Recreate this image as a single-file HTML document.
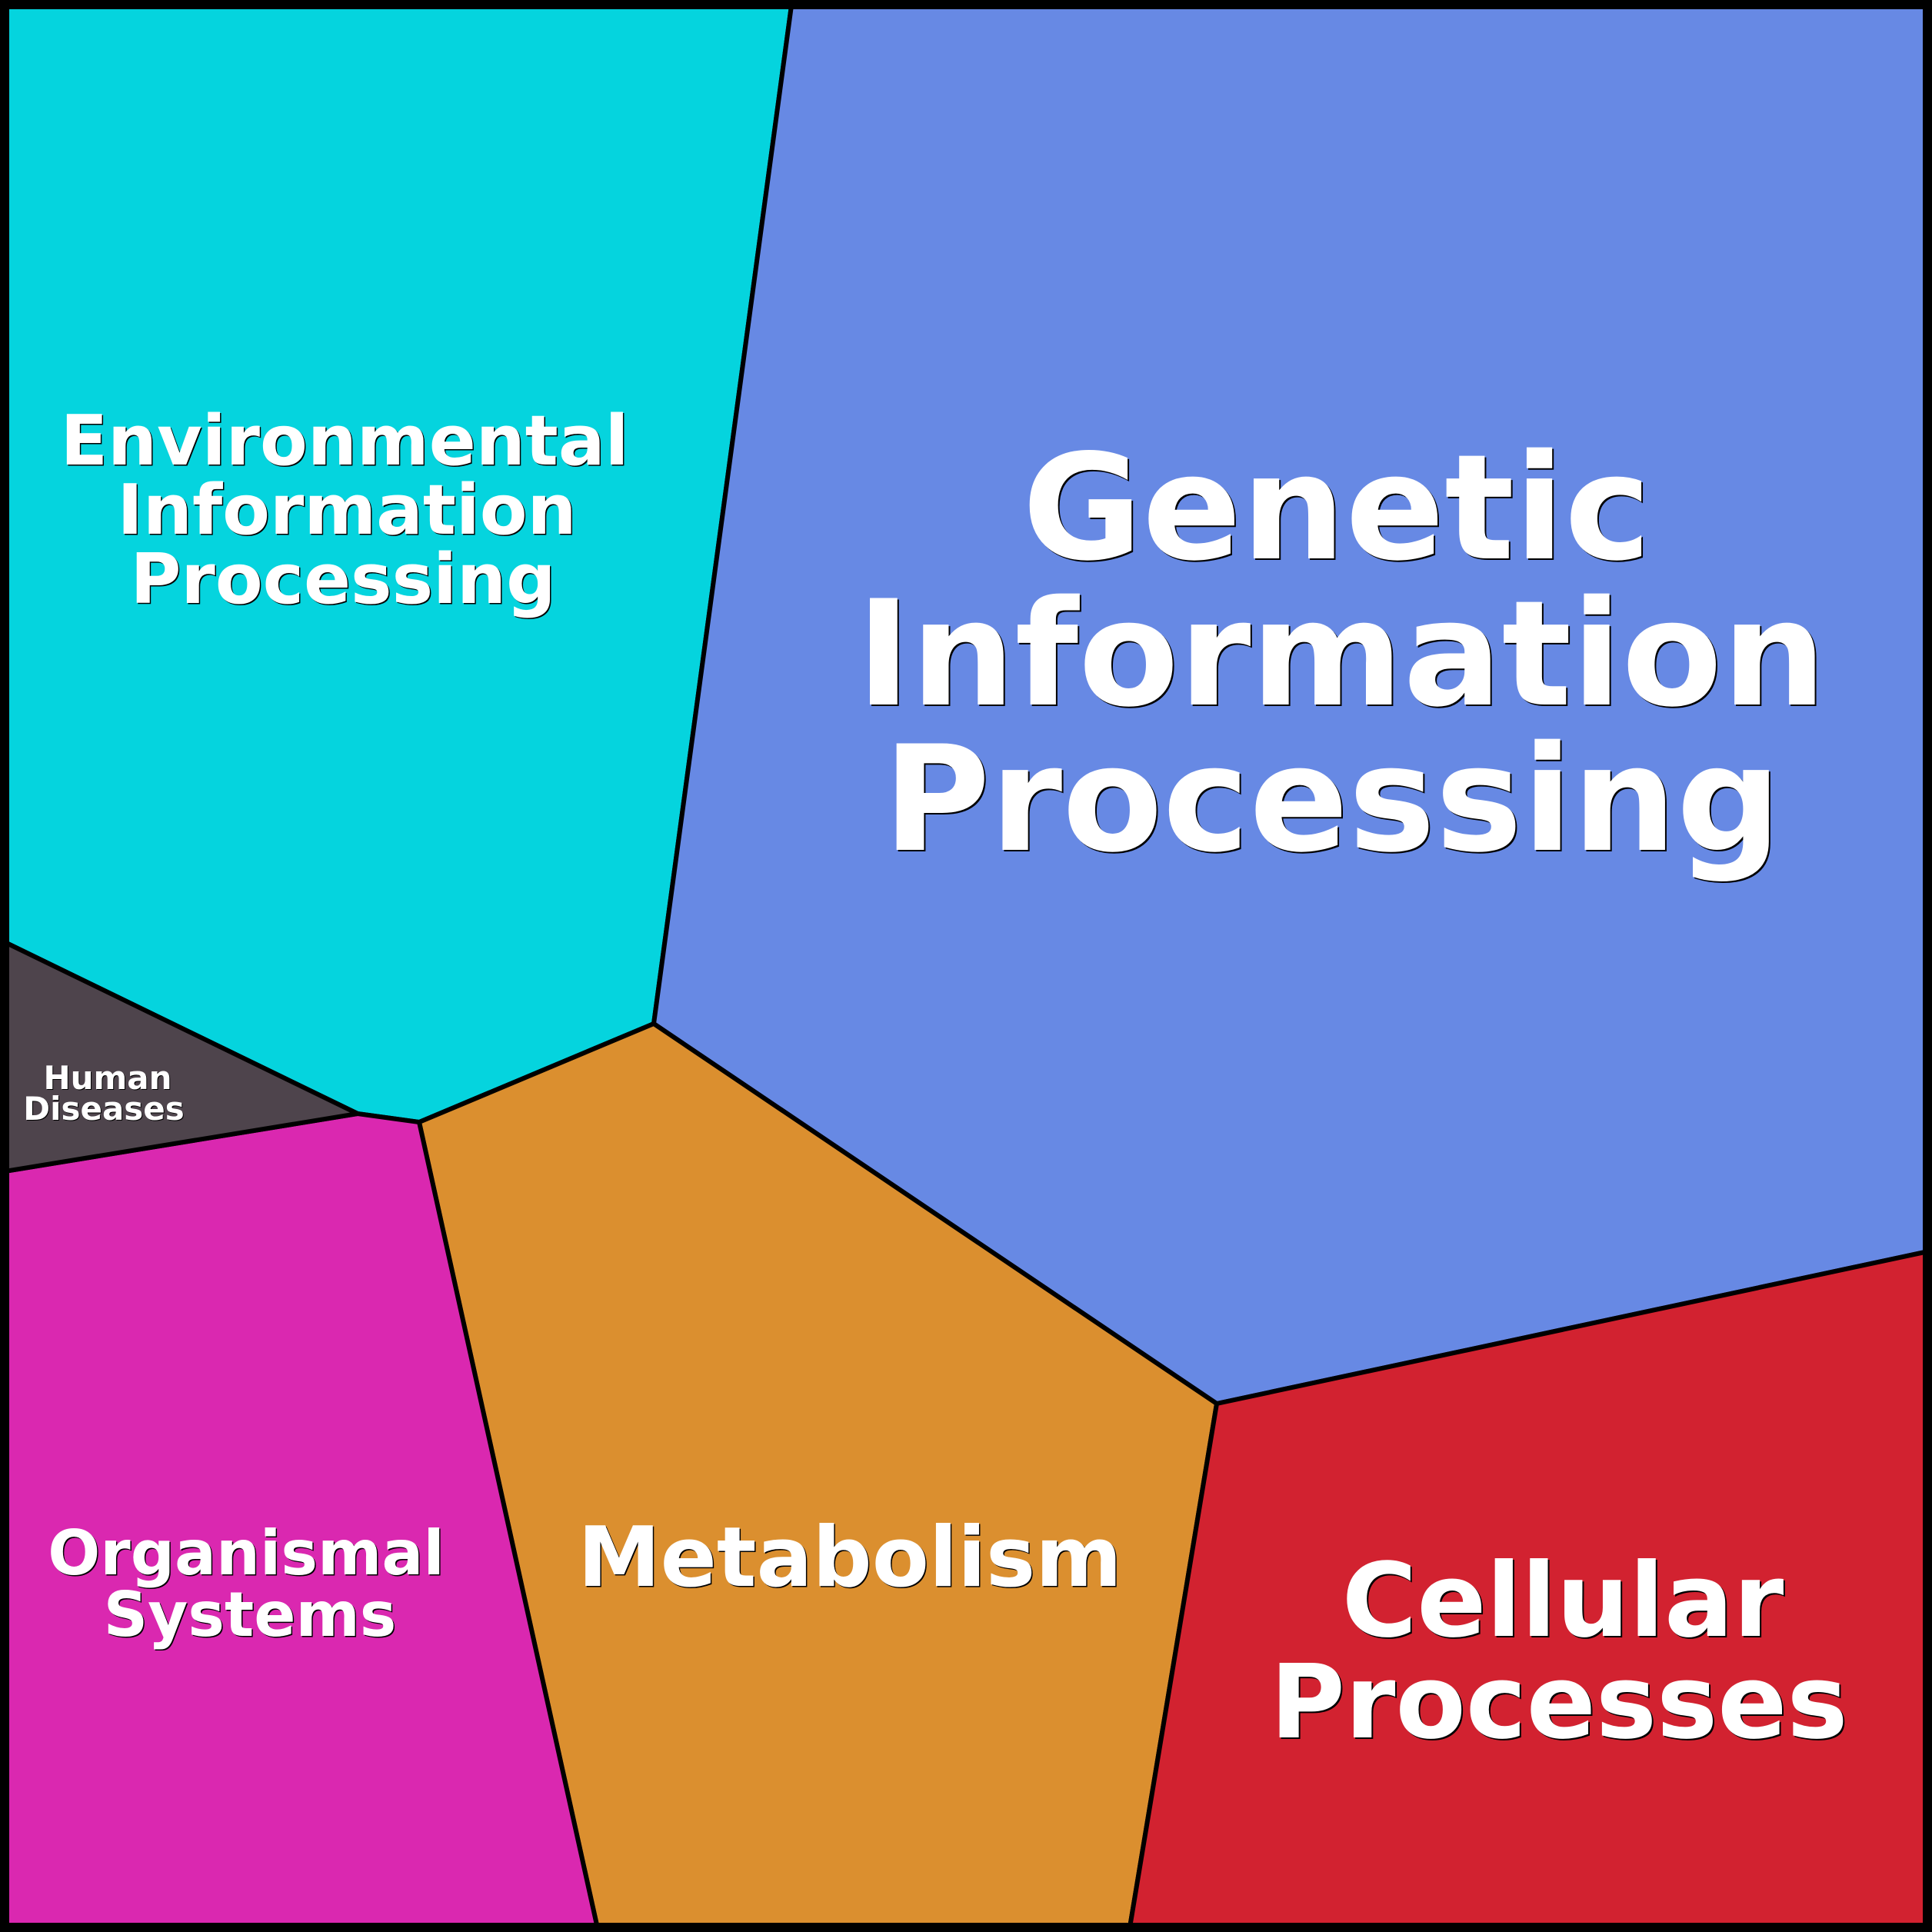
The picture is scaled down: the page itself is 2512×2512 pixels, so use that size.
<!DOCTYPE html>
<html>
<head>
<meta charset="utf-8">
<style>
  html, body { margin: 0; padding: 0; background: #000; }
  svg { display: block; }
  text { font-family: "DejaVu Sans", "Liberation Sans", sans-serif; font-weight: bold; text-anchor: middle; }
</style>
</head>
<body>
<svg width="2512" height="2512" viewBox="0 0 2512 2512" xmlns="http://www.w3.org/2000/svg">
  <rect x="0" y="0" width="2512" height="2512" fill="#000"/>
  <g stroke="#000" stroke-width="6" stroke-linejoin="miter">
    <!-- Environmental -->
    <polygon fill="#05D4DE" points="0,0 1030,0 850,1331 545,1459 465,1448 0,1222"/>
    <!-- Genetic -->
    <polygon fill="#6789E4" points="1030,0 2512,0 2512,1626 1582,1825 850,1331"/>
    <!-- Metabolism -->
    <polygon fill="#DB8F2F" points="850,1331 1582,1825 1468,2512 778,2512 545,1459"/>
    <!-- Cellular -->
    <polygon fill="#D22230" points="1582,1825 2512,1626 2512,2512 1468,2512"/>
    <!-- Organismal -->
    <polygon fill="#DA28B0" points="0,1524 465,1448 545,1459 778,2512 0,2512"/>
    <!-- Human Diseases -->
    <polygon fill="#4E444C" points="0,1222 465,1448 0,1524"/>
  </g>
  <rect x="0" y="0" width="2512" height="2512" fill="none" stroke="#000" stroke-width="24"/>

  <!-- Genetic Information Processing -->
  <g font-size="190">
    <g fill="#000" transform="translate(2,2)">
      <text x="1738" y="726">Genetic</text>
      <text x="1744" y="916">Information</text>
      <text x="1732" y="1105">Processing</text>
    </g>
    <g fill="#fff">
      <text x="1738" y="726">Genetic</text>
      <text x="1744" y="916">Information</text>
      <text x="1732" y="1105">Processing</text>
    </g>
  </g>

  <!-- Environmental Information Processing -->
  <g font-size="90">
    <g fill="#000" transform="translate(1.5,1.5)">
      <text x="448" y="604">Environmental</text>
      <text x="451" y="694">Information</text>
      <text x="446" y="784">Processing</text>
    </g>
    <g fill="#fff">
      <text x="448" y="604">Environmental</text>
      <text x="451" y="694">Information</text>
      <text x="446" y="784">Processing</text>
    </g>
  </g>

  <!-- Human Diseases -->
  <g font-size="42">
    <g fill="#000" transform="translate(1,1)">
      <text x="140" y="1416">Human</text>
      <text x="135" y="1456">Diseases</text>
    </g>
    <g fill="#fff">
      <text x="140" y="1416">Human</text>
      <text x="135" y="1456">Diseases</text>
    </g>
  </g>

  <!-- Organismal Systems -->
  <g font-size="80">
    <g fill="#000" transform="translate(1.5,1.5)">
      <text x="320" y="2047">Organismal</text>
      <text x="325" y="2127">Systems</text>
    </g>
    <g fill="#fff">
      <text x="320" y="2047">Organismal</text>
      <text x="325" y="2127">Systems</text>
    </g>
  </g>

  <!-- Metabolism -->
  <g font-size="108">
    <text fill="#000" x="1106.5" y="2063.5">Metabolism</text>
    <text fill="#fff" x="1105" y="2062">Metabolism</text>
  </g>

  <!-- Cellular Processes -->
  <g font-size="133">
    <g fill="#000" transform="translate(2,2)">
      <text x="2032" y="2127">Cellular</text>
      <text x="2027" y="2259">Processes</text>
    </g>
    <g fill="#fff">
      <text x="2032" y="2127">Cellular</text>
      <text x="2027" y="2259">Processes</text>
    </g>
  </g>
</svg>
</body>
</html>
